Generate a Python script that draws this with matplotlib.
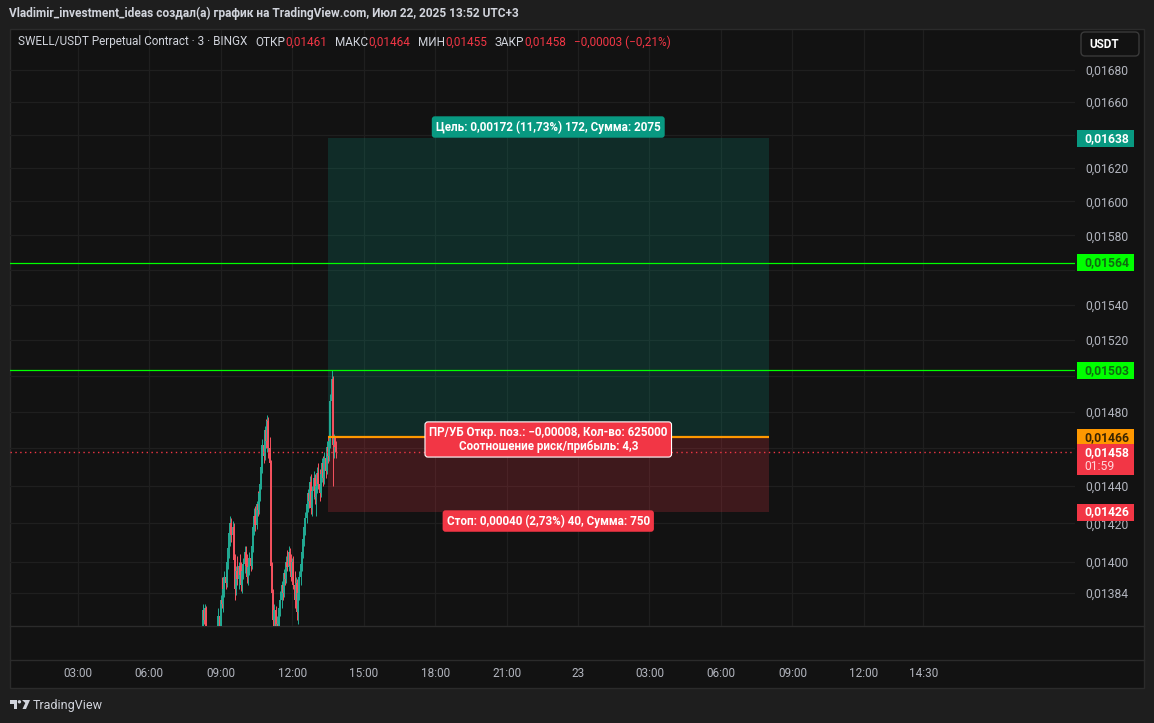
import numpy as np
import pandas as pd
import matplotlib

matplotlib.use("Agg")
from matplotlib import pyplot as plt
import matplotlib.dates as mdates
from matplotlib.patches import Rectangle, Polygon, Circle, FancyBboxPatch
from matplotlib.ticker import FixedLocator, NullLocator, FuncFormatter

plt.rcParams["font.family"] = ["Roboto", "DejaVu Sans"]

# SWELL/USDT 3-minute candles, prices in 1e-5 USDT
first_candle = "2025-07-22 08:15"
opens = [1360, 1375, 1370, 1376, 1355, 1352, 1348, 1350, 1354, 1352, 1356, 1358, 1360, 1363, 1372, 1367,
         1380, 1378, 1386, 1392, 1389, 1400, 1407, 1415, 1420, 1414, 1418, 1401, 1386, 1395, 1391, 1398,
         1393, 1388, 1395, 1399, 1405, 1398, 1392, 1397, 1402, 1398, 1408, 1418, 1424, 1419, 1430, 1427,
         1436, 1441, 1450, 1462, 1456, 1470, 1464, 1475, 1460, 1452, 1398, 1384, 1370, 1375, 1360, 1368,
         1362, 1376, 1380, 1388, 1384, 1394, 1391, 1400, 1397, 1405, 1398, 1392, 1400, 1388, 1380, 1389,
         1374, 1384, 1392, 1399, 1405, 1412, 1418, 1423, 1430, 1436, 1432, 1442, 1428, 1437, 1444, 1434,
         1440, 1447, 1441, 1436, 1446, 1452, 1444, 1455, 1448, 1461, 1456, 1464, 1486, 1498, 1462, 1466,
         1461]
highs = [1378, 1376, 1378, 1377, 1360, 1356, 1353, 1357, 1359, 1358, 1362, 1364, 1365, 1376, 1378, 1383,
         1392, 1388, 1395, 1398, 1402, 1410, 1418, 1424, 1423, 1421, 1420, 1404, 1398, 1403, 1400, 1404,
         1400, 1397, 1402, 1408, 1408, 1404, 1400, 1405, 1406, 1410, 1420, 1428, 1429, 1432, 1437, 1438,
         1444, 1452, 1465, 1468, 1472, 1476, 1478, 1477, 1466, 1454, 1400, 1386, 1378, 1377, 1372, 1370,
         1378, 1385, 1390, 1392, 1396, 1400, 1403, 1406, 1408, 1407, 1404, 1402, 1403, 1395, 1392, 1391,
         1386, 1395, 1402, 1408, 1415, 1420, 1426, 1432, 1438, 1442, 1445, 1446, 1440, 1448, 1446, 1442,
         1450, 1452, 1449, 1448, 1455, 1456, 1458, 1460, 1464, 1466, 1467, 1490, 1503, 1500, 1468, 1467,
         1464]
lows = [1355, 1368, 1368, 1352, 1348, 1345, 1342, 1347, 1350, 1349, 1352, 1354, 1356, 1360, 1364, 1365,
        1376, 1374, 1382, 1386, 1387, 1396, 1402, 1408, 1410, 1405, 1398, 1380, 1383, 1388, 1386, 1390,
        1385, 1384, 1391, 1394, 1396, 1389, 1388, 1393, 1395, 1396, 1405, 1414, 1416, 1417, 1424, 1425,
        1432, 1438, 1447, 1452, 1454, 1460, 1458, 1455, 1448, 1395, 1380, 1366, 1360, 1355, 1356, 1350,
        1358, 1372, 1376, 1380, 1382, 1388, 1389, 1395, 1395, 1394, 1390, 1389, 1386, 1376, 1378, 1370,
        1368, 1380, 1388, 1395, 1402, 1408, 1414, 1420, 1426, 1428, 1430, 1425, 1424, 1433, 1430, 1424,
        1436, 1438, 1432, 1434, 1442, 1440, 1441, 1444, 1446, 1452, 1453, 1460, 1482, 1440, 1455, 1458,
        1455]
closes = [1375, 1370, 1376, 1355, 1352, 1348, 1350, 1354, 1352, 1356, 1358, 1360, 1363, 1372, 1367, 1380,
          1378, 1386, 1392, 1389, 1400, 1407, 1415, 1420, 1414, 1418, 1401, 1386, 1395, 1391, 1398, 1393,
          1388, 1395, 1399, 1405, 1398, 1392, 1397, 1402, 1398, 1408, 1418, 1424, 1419, 1430, 1427, 1436,
          1441, 1450, 1462, 1456, 1470, 1464, 1475, 1460, 1452, 1398, 1384, 1370, 1375, 1360, 1368, 1362,
          1376, 1380, 1388, 1384, 1394, 1391, 1400, 1397, 1405, 1398, 1392, 1400, 1388, 1380, 1389, 1374,
          1384, 1392, 1399, 1405, 1412, 1418, 1423, 1430, 1436, 1432, 1442, 1428, 1437, 1444, 1434, 1440,
          1447, 1441, 1436, 1446, 1452, 1444, 1455, 1448, 1461, 1456, 1464, 1486, 1498, 1462, 1466, 1461,
          1458]

price_ticks = [0.0168, 0.0166, 0.0164, 0.0162, 0.0160, 0.0158, 0.0156, 0.0154, 0.0152, 0.0150,
               0.0148, 0.0146, 0.0144, 0.0142, 0.0140, 0.01384]
# tick labels covered by the price boxes on the right
hidden_ticks = [0.0164, 0.0156, 0.0150, 0.0146]
time_ticks = ["2025-07-22 03:00", "2025-07-22 06:00", "2025-07-22 09:00", "2025-07-22 12:00",
              "2025-07-22 15:00", "2025-07-22 18:00", "2025-07-22 21:00", "2025-07-23 00:00",
              "2025-07-23 03:00", "2025-07-23 06:00", "2025-07-23 09:00", "2025-07-23 12:00",
              "2025-07-23 14:30"]
time_labels = ["03:00", "06:00", "09:00", "12:00", "15:00", "18:00", "21:00", "23",
               "03:00", "06:00", "09:00", "12:00", "14:30"]

target_price = 0.01638
entry_price = 0.01466
stop_price = 0.01426
last_price = 0.01458
level_lines = [0.01564, 0.01503]
position_start = "2025-07-22 13:30"
position_end = "2025-07-23 08:00"
view_start = "2025-07-22 00:09"
view_end = "2025-07-23 20:52"
view_low, view_high = 0.01367, 0.01705

UP = "#22ab94"
DOWN = "#f7525f"
TEAL = "#089981"
RED = "#f23645"
LIME = "#00ff00"
ORANGE = "#ff9800"
TXT = "#b2b5be"
HEAD = "#d1d4dc"

W, H = 1154, 723
fig = plt.figure(figsize=(W / 100, H / 100), dpi=100, facecolor="#1e1e1e")

# background overlay in pixel coords
bg = fig.add_axes([0, 0, 1, 1], zorder=0)
bg.set_xlim(0, W)
bg.set_ylim(H, 0)
bg.axis("off")
bg.add_patch(Rectangle((10, 29), 1134, 659, fc="#121212", ec="#2b2b2b", lw=1))
bg.plot([10, 1144], [626, 626], color="#2b2b2b", lw=1)
bg.plot([10, 1144], [660, 660], color="#2b2b2b", lw=1)

ax = fig.add_axes([10 / W, 1 - 626 / H, 1065 / W, 596 / H], zorder=1)
ax.set_facecolor("none")
ax.set_yscale("log")
ax.set_ylim(view_low, view_high)
ax.set_xlim(mdates.datestr2num(view_start), mdates.datestr2num(view_end))
for s in ax.spines.values():
    s.set_visible(False)


def price_fmt(v, pos):
    if any(abs(v - hv) < 1e-7 for hv in hidden_ticks):
        return ""
    return f"{v:.5f}".replace(".", ",")


ax.yaxis.set_major_locator(FixedLocator(price_ticks))
ax.yaxis.set_minor_locator(NullLocator())
ax.yaxis.set_major_formatter(FuncFormatter(price_fmt))
ax.yaxis.tick_right()
ax.tick_params(axis="y", length=0, pad=7.3, labelsize=8.7, labelcolor=TXT)

xt = [mdates.datestr2num(s) for s in time_ticks]
ax.set_xticks(xt, time_labels)
ax.tick_params(axis="x", length=0, pad=29.5, labelsize=8.5, labelcolor=TXT)
ax.grid(True, color="#1f1f1f", lw=0.9)
ax.set_axisbelow(True)

# candles
t = mdates.date2num(pd.date_range(first_candle, periods=len(closes), freq="3min"))
o = np.array(opens) / 1e5
h = np.array(highs) / 1e5
l = np.array(lows) / 1e5
c = np.array(closes) / 1e5
cols = np.where(c >= o, UP, DOWN)
ax.vlines(t, l, h, colors=cols, lw=0.7, zorder=3)
ax.vlines(t, np.minimum(o, c), np.maximum(o, c), colors=cols, lw=1.4, zorder=3)

# long position tool
p0 = mdates.datestr2num(position_start)
p1 = mdates.datestr2num(position_end)
pm = (p0 + p1) / 2
ax.fill_between([p0, p1], entry_price, target_price, color=TEAL, alpha=0.2, lw=0, zorder=2)
ax.fill_between([p0, p1], stop_price, entry_price, color=RED, alpha=0.2, lw=0, zorder=2)
ax.hlines(entry_price, p0, p1, color=ORANGE, lw=1.6, zorder=4)

for lv in level_lines:
    ax.axhline(lv, color=LIME, lw=0.9, zorder=4)
ax.axhline(last_price, color=RED, lw=1, ls=(0, (1, 2.5)), zorder=4)

lab = dict(ha="center", va="center", fontsize=8.4, fontweight="bold", color="white",
           textcoords="offset points", zorder=6)
ax.annotate("Цель: 0,00172 (11,73%) 172, Сумма: 2075", (pm, target_price), xytext=(0, 8),
            bbox=dict(boxstyle="round,pad=0.35,rounding_size=0.25", fc=TEAL, ec="none"), **lab)
ax.annotate("ПР/УБ Откр. поз.: −0,00008, Кол-во: 625000\nСоотношение риск/прибыль: 4,3",
            (pm, entry_price), xytext=(0, -1.5), linespacing=1.1,
            bbox=dict(boxstyle="round,pad=0.35,rounding_size=0.25", fc=RED, ec="white", lw=0.8), **lab)
ax.annotate("Стоп: 0,00040 (2,73%) 40, Сумма: 750", (pm, stop_price), xytext=(0, -6.5),
            bbox=dict(boxstyle="round,pad=0.35,rounding_size=0.25", fc=RED, ec="none"), **lab)

# top overlay for price boxes and headers
top = fig.add_axes([0, 0, 1, 1], zorder=5)
top.set_xlim(0, W)
top.set_ylim(H, 0)
top.axis("off")


def ypix(v):
    return H - ax.transData.transform((ax.get_xlim()[0], v))[1]


def price_box(v, fc, tc, sub=None):
    y = ypix(v)
    hgt = 31 if sub else 17
    top.add_patch(Rectangle((1077, y - 8.5), 57, hgt, fc=fc, ec="none"))
    top.text(1084, y, f"{v:.5f}".replace(".", ","), color=tc, fontsize=8.7,
             fontweight="bold", va="center", ha="left")
    if sub:
        top.text(1084, y + 14, sub, color="#ffd6da", fontsize=8.7, va="center", ha="left")


price_box(target_price, TEAL, "white")
for lv in level_lines:
    price_box(lv, LIME, "#106b10")
price_box(entry_price, ORANGE, "#3b2500")
price_box(last_price, RED, "white", sub="01:59")
price_box(stop_price, RED, "white")

top.add_patch(FancyBboxPatch((1081, 32), 58, 24, boxstyle="round,pad=0,rounding_size=4",
                             fc="#121212", ec="#3a3a3a", lw=1))
top.text(1089, 44.5, "USDT", color="white", fontsize=8.5, fontweight="bold", va="center")

top.text(9, 13, "Vladimir_investment_ideas создал(а) график на TradingView.com, Июл 22, 2025 13:52 UTC+3",
         color=HEAD, fontsize=8.6, fontweight="bold", va="center", ha="left")

runs = [("SWELL/USDT Perpetual Contract · 3 · BINGX", HEAD, 8), ("ОТКР", HEAD, 0), ("0,01461", RED, 8),
        ("МАКС", HEAD, 0), ("0,01464", RED, 8), ("МИН", HEAD, 0), ("0,01455", RED, 8),
        ("ЗАКР", HEAD, 0), ("0,01458", RED, 8), ("−0,00003 (−0,21%)", RED, 0)]
rend = fig.canvas.get_renderer()
x = 18
for s, col, gap in runs:
    tx = top.text(x, 42, s, color=col, fontsize=8.5, va="center", ha="left")
    x += tx.get_window_extent(renderer=rend).width + gap

# TradingView logo
logo = "#d1d4dc"
top.add_patch(Polygon([(9.5, 700), (17, 700), (17, 709), (13.5, 709), (13.5, 703.5), (9.5, 703.5)],
                      closed=True, fc=logo, ec="none"))
top.add_patch(Circle((19.4, 701.8), 1.7, fc=logo, ec="none"))
top.add_patch(Polygon([(22, 700), (30, 700), (26, 709), (22.5, 709), (25.3, 703)],
                      closed=True, fc=logo, ec="none"))
top.text(33, 705, "TradingView", color=logo, fontsize=9, va="center", ha="left")

fig.savefig("out.png", dpi=100, facecolor=fig.get_facecolor())
plt.close(fig)
